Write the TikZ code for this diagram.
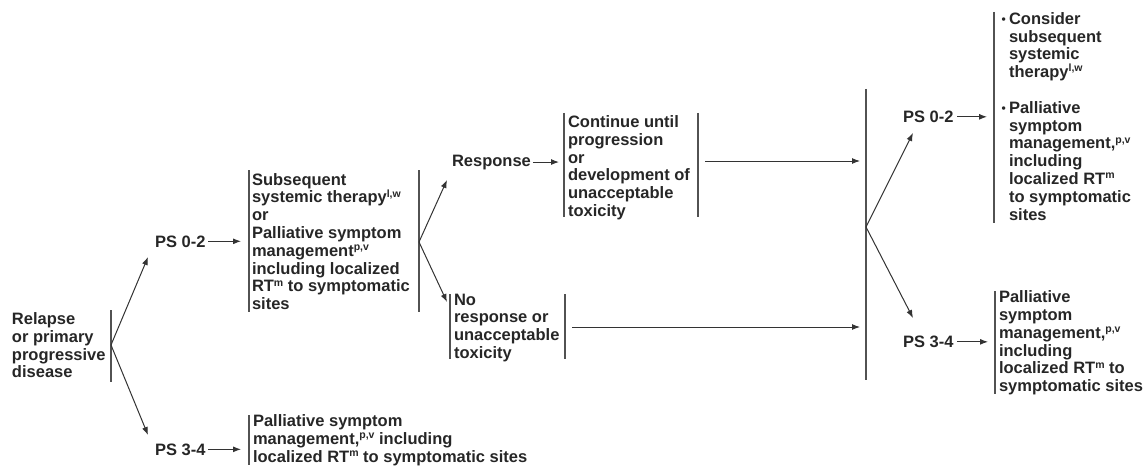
\documentclass[tikz,border=0pt]{standalone}
\usepackage{fontspec}
\setmainfont{Liberation Sans}
\usetikzlibrary{arrows.meta}

% text setting used by every label
\newcommand\txtfont{\fontsize{16.5}{17.8}\selectfont\bfseries}
\newcommand\sups[1]{\smash{\raisebox{5.8pt}{\fontsize{10.5}{10.5}\selectfont #1}}}
\newcommand\blk[1]{\parbox[t]{320pt}{\raggedright\txtfont #1}}
\newcommand\bul{\makebox[7.5pt][l]{\raisebox{0.5pt}{\fontsize{12}{12}\selectfont •}}}
\newcommand\ind{\hspace*{7.5pt}}

\tikzset{
  txt/.style={anchor=base west, inner sep=0pt, outer sep=0pt, text=black!85, font=\txtfont},
  bar/.style={draw=black!68, line width=1.1pt},
  link/.style={draw=black!80, line width=1pt, -{Latex[length=8pt,width=6pt]}},
}

\begin{document}
\begin{tikzpicture}[x=1pt, y=-1pt]
\useasboundingbox (0,0) rectangle (1148,468);

% ---- start: relapse ----
\node[txt] (relapse) at (12,324.5) {\blk{Relapse\\or primary\\progressive\\disease}};
\coordinate (relT) at (111,310);
\coordinate (relB) at (111,382);
\coordinate (relJ) at (111,345);
\draw[bar] (relT) -- (relB);

\node[txt] (psA) at (155,247) {PS 0-2};
\node[txt] (psB) at (155,455) {PS 3-4};
\coordinate (psAin) at (148,257);
\coordinate (psBin) at (148,435);
\draw[link] (relJ) -- (psAin);
\draw[link] (relJ) -- (psBin);

% ---- PS 0-2: treatment box ----
\coordinate (subLT) at (249,170);
\coordinate (subLB) at (249,312);
\coordinate (subRT) at (419,170);
\coordinate (subRB) at (419,312);
\coordinate (subJ) at (419,242);
\draw[bar] (subLT) -- (subLB);
\draw[bar] (subRT) -- (subRB);
\node[txt] (sub) at (252,185) {\blk{Subsequent\\systemic therapy\sups{l,w}\\or\\Palliative symptom\\management\sups{p,v}\\including localized\\RT\sups{m} to symptomatic\\sites}};
\draw[link] ([xshift=3pt]psA.east) -- ([xshift=-8pt]psA.east -| subLT);

% ---- PS 3-4: palliative box ----
\coordinate (palLT) at (249,415);
\coordinate (palLB) at (249,465);
\draw[bar] (palLT) -- (palLB);
\node[txt] (pal) at (253,426.7) {\blk{Palliative symptom\\management,\sups{p,v} including\\localized RT\sups{m} to symptomatic sites}};
\draw[link] ([xshift=3pt]psB.east) -- ([xshift=-8pt]psB.east -| palLT);

% ---- response branches ----
\node[txt] (resp) at (452,166) {Response};
\coordinate (respin) at (447,180);
\coordinate (noin) at (447,302);
\draw[link] (subJ) -- (respin);
\draw[link] (subJ) -- (noin);

\coordinate (conLT) at (564,113);
\coordinate (conLB) at (564,217);
\coordinate (conRT) at (698,113);
\coordinate (conRB) at (698,217);
\draw[bar] (conLT) -- (conLB);
\draw[bar] (conRT) -- (conRB);
\node[txt] (cont) at (568,127.5) {\blk{Continue until\\progression\\or\\development of\\unacceptable\\toxicity}};
\draw[link] ([xshift=2pt]resp.east) -- ([xshift=-5pt]resp.east -| conLT);

\coordinate (noLT) at (450,294);
\coordinate (noLB) at (450,359);
\coordinate (noRT) at (565,294);
\coordinate (noRB) at (565,359);
\draw[bar] (noLT) -- (noLB);
\draw[bar] (noRT) -- (noRB);
\node[txt] (nores) at (454,305) {\blk{No\\response or\\unacceptable\\toxicity}};

% ---- merge bar ----
\coordinate (bigT) at (866,89);
\coordinate (bigB) at (866,380);
\coordinate (bigJ) at (866,227);
\draw[bar] (bigT) -- (bigB);
\coordinate (conOut) at (705,161);
\coordinate (noOut) at (572,327);
\draw[link] (conOut) -- ([xshift=-6pt]conOut -| bigT);
\draw[link] (noOut) -- ([xshift=-6pt]noOut -| bigT);

\node[txt] (psC) at (903,122.5) {PS 0-2};
\node[txt] (psD) at (903,347.5) {PS 3-4};
\coordinate (psCin) at (913,133);
\coordinate (psDin) at (913,318);
\draw[link] (bigJ) -- (psCin);
\draw[link] (bigJ) -- (psDin);

% ---- right-hand outcomes ----
\coordinate (optT) at (994,12);
\coordinate (optB) at (994,223);
\draw[bar] (optT) -- (optB);
\node[txt] (opt) at (1001.5,24.3) {\blk{\bul Consider\\\ind subsequent\\\ind systemic\\\ind therapy\sups{l,w}\\[17.8pt]\bul Palliative\\\ind symptom\\\ind management,\sups{p,v}\\\ind including\\\ind localized RT\sups{m}\\\ind to symptomatic\\\ind sites}};
\draw[link] ([xshift=4pt]psC.east) -- ([xshift=-7pt]psC.east -| optT);

\coordinate (lastT) at (995,291);
\coordinate (lastB) at (995,394);
\draw[bar] (lastT) -- (lastB);
\node[txt] (last) at (999,302.7) {\blk{Palliative\\symptom\\management,\sups{p,v}\\including\\localized RT\sups{m} to\\symptomatic sites}};
\draw[link] ([xshift=4pt]psD.east) -- ([xshift=-7pt]psD.east -| lastT);
\end{tikzpicture}
\end{document}
